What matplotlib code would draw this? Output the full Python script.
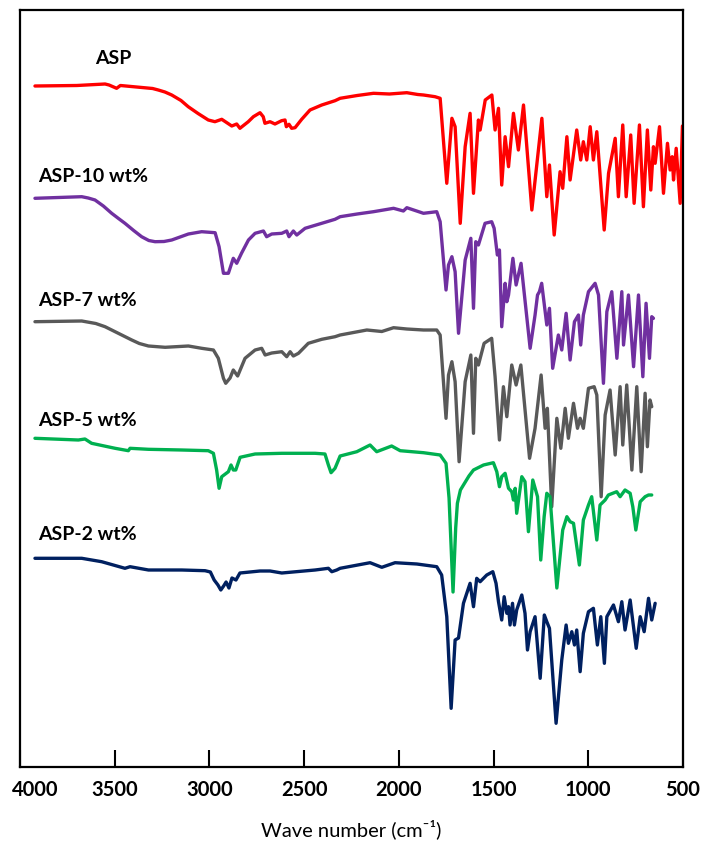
import matplotlib
matplotlib.use("Agg")
import matplotlib.pyplot as plt
import matplotlib.transforms as mtransforms
import numpy as np

plt.rcParams['font.family'] = ['Lato', 'DejaVu Sans']

# FTIR spectra: wavenumber (cm-1) and relative transmittance (a.u.), one pair per sample
asp_wn = [3921, 3700, 3551, 3530, 3490, 3470, 3300, 3270, 3235, 3199, 3150, 3112, 3060, 3006, 2971, 2935,
          2882, 2856, 2839, 2795, 2768, 2733, 2716, 2707, 2680, 2654, 2619, 2601, 2594, 2580, 2566,
          2548, 2513, 2469, 2407, 2337, 2310, 2220, 2134, 2050, 1958, 1900, 1870, 1809, 1782, 1747,
          1720, 1703, 1676, 1650, 1624, 1606, 1580, 1571, 1544, 1509, 1492, 1474, 1457, 1439, 1421,
          1395, 1369, 1342, 1298, 1245, 1219, 1205, 1180, 1149, 1135, 1113, 1096, 1061, 1040, 1026,
          1008, 990, 973, 955, 916, 893, 858, 841, 818, 800, 776, 758, 730, 709, 688, 670, 656, 647,
          624, 603, 582, 568, 557, 550, 536, 515, 503]
asp_t = [0, 0.5, 2, 1, -2.3, 0.5, -2.5, -4, -6, -9, -14.5, -20.7, -27.5, -34, -35.7, -33.3,
         -40, -38, -42.3, -35.7, -30.7, -26.7, -30.7, -37.3, -35.7, -38, -34.7, -34, -40.7, -38.3, -42.3,
         -41.7, -33.3, -24, -19, -14.7, -12.3, -9.5, -7.3, -8, -6.7, -8.5, -9, -10.7, -12.3, -97.3,
         -32.3, -40.7, -137.3, -60.7, -27.3, -107.3, -34, -44, -14, -9, -44, -22.3, -99, -50.7, -80.7,
         -27.3, -64, -19, -124, -32.3, -110.7, -79, -149, -85.7, -102.3, -50.7, -94, -44, -74, -55.7,
         -74, -40.7, -74, -45.7, -144, -87.3, -52.3, -110.7, -39, -110.7, -49, -117.3, -39, -120.7, -44,
         -104, -60.7, -77.3, -40.7, -107.3, -57.3, -84, -70.7, -94, -62.3, -117.3, -40]

asp10_wn = [3921, 3674, 3640, 3604, 3560, 3516, 3480, 3446, 3400, 3358, 3320, 3287, 3240, 3199, 3111,
            3041, 2970, 2949, 2926, 2900, 2874, 2856, 2830, 2794, 2759, 2715, 2698, 2671, 2618, 2592,
            2580, 2557, 2539, 2495, 2407, 2337, 2310, 2220, 2134, 2028, 1976, 1958, 1870, 1800, 1782,
            1751, 1738, 1720, 1703, 1685, 1650, 1620, 1606, 1594, 1580, 1545, 1510, 1497, 1480, 1469,
            1457, 1439, 1430, 1421, 1398, 1381, 1355, 1307, 1281, 1268, 1258, 1246, 1219, 1205, 1188,
            1158, 1140, 1117, 1096, 1073, 1052, 1040, 1026, 999, 964, 946, 920, 902, 876, 849, 823,
            814, 788, 761, 735, 712, 695, 677, 665, 656]
asp10_t = [-0.3, 1.3, 0, -2, -8, -15.3, -20.5, -25.3, -32.5, -38.7, -42.5, -43.7, -43.5, -42, -36,
           -33.7, -34.7, -48.7, -75.3, -75.3, -60.3, -65.3, -55, -42, -35.3, -33, -38.7, -36, -35.3, -33,
           -38.7, -33, -37, -30.3, -25.3, -21.3, -18.7, -16, -13.7, -10.3, -13, -9.7, -15.3, -13.7, -23.7,
           -92, -67, -58.7, -73.7, -135.3, -62, -40.3, -110.3, -43.7, -47, -25.3, -23.7, -30.3, -57, -52,
           -128.7, -85.3, -103.7, -97, -60.3, -87, -65.3, -150.3, -117, -97, -93.7, -85.3, -127, -110.3, -170.3,
           -137, -152, -115.3, -162, -123.7, -117, -147, -117, -93.7, -85.3, -97, -185.3, -113.7, -93.7, -160.3,
           -93.7, -147, -97, -168.7, -97, -178.7, -105.3, -160.3, -118.7, -120.3]

asp7_wn = [3921, 3674, 3600, 3551, 3481, 3410, 3370, 3322, 3234, 3111, 3041, 2979, 2953, 2926, 2914,
           2891, 2874, 2851, 2812, 2759, 2724, 2706, 2671, 2618, 2592, 2574, 2557, 2530, 2478, 2407,
           2337, 2310, 2169, 2090, 2028, 1958, 1870, 1800, 1782, 1751, 1738, 1720, 1703, 1682, 1650,
           1620, 1606, 1594, 1580, 1550, 1510, 1492, 1469, 1448, 1430, 1404, 1381, 1356, 1310, 1281,
           1249, 1228, 1216, 1193, 1166, 1145, 1122, 1105, 1078, 1057, 1043, 1026, 999, 969, 955, 932,
           911, 885, 858, 832, 818, 797, 770, 744, 721, 700, 688, 674, 665]
asp7_t = [0.3, 1, -1.5, -4.7, -11.3, -18, -21.5, -24, -25.3, -24, -26.3, -28, -36.3, -56.3, -61.3,
          -56, -48, -54, -36.3, -28, -26.3, -33, -31, -29.7, -34.7, -29.7, -34, -31.3, -21.3, -17.3,
          -14.7, -13, -8, -9.5, -5.7, -7, -8, -8, -13, -96.3, -53, -39.7, -59.7, -139.7, -59.7,
          -33, -111.3, -36.3, -43, -21.3, -16.3, -54.7, -118, -64.7, -94.7, -43, -63, -43, -136.3, -106.3,
          -53, -106.3, -86.3, -184.7, -96.3, -126.3, -86.3, -116.3, -81.3, -106.3, -96.3, -106.3, -66.3, -64.7, -73, -174.7,
          -93, -68, -133, -64.7, -123, -63, -148, -64.7, -149.7, -71.3, -124.7, -78, -84.7]

asp5_wn = [3921, 3692, 3657, 3622, 3498, 3428, 3419, 3322, 3146, 3006, 2979, 2962, 2949, 2935, 2900,
           2886, 2874, 2861, 2838, 2759, 2618, 2442, 2390, 2372, 2358, 2337, 2310, 2222, 2152, 2117,
           2038, 1993, 1870, 1782, 1751, 1735, 1714, 1700, 1691, 1675, 1659, 1630, 1606, 1553, 1501,
           1483, 1469, 1457, 1439, 1421, 1404, 1395, 1386, 1378, 1351, 1334, 1316, 1293, 1268, 1251,
           1233, 1219, 1202, 1166, 1135, 1113, 1096, 1078, 1047, 1026, 999, 982, 955, 938, 911, 894,
           850, 832, 806, 779, 765, 749, 726, 700, 682, 665]
asp5_t = [-0.3, -2, -1, -5.3, -10.3, -12.7, -10.3, -11.3, -12, -12.7, -15.3, -32, -50.3, -38.7, -33.7,
          -27, -32, -32, -19.3, -16, -15.3, -15.3, -16, -27, -34.7, -30.3, -18, -13.7, -7, -13.7,
          -8, -12.7, -14.7, -17, -25.3, -60, -154, -90, -65.3, -52, -47, -38, -32, -27, -24.7,
          -33.7, -48.7, -38.7, -35.3, -50.3, -53.7, -62, -50.3, -75.3, -38.7, -43.7, -93.7, -42, -58.7, -122,
          -78.7, -55.3, -58.7, -150, -92, -78.7, -83.7, -85.3, -127, -82, -67, -58.7, -102, -67, -62, -57,
          -53.7, -58.7, -52, -55.3, -68.7, -92, -63.7, -58.7, -57, -57]

asp2_wn = [3921, 3674, 3569, 3446, 3419, 3322, 3146, 3023, 2995, 2975, 2955, 2940, 2925, 2912, 2897,
           2881, 2860, 2839, 2786, 2733, 2680, 2618, 2442, 2372, 2354, 2328, 2310, 2152, 2090, 2020,
           1905, 1800, 1774, 1747, 1724, 1703, 1685, 1659, 1624, 1606, 1589, 1571, 1536, 1504, 1487,
           1474, 1457, 1444, 1430, 1421, 1413, 1400, 1390, 1378, 1351, 1334, 1321, 1307, 1281, 1254,
           1232, 1219, 1205, 1170, 1140, 1117, 1105, 1087, 1073, 1061, 1043, 1026, 999, 973, 952, 934,
           915, 902, 867, 841, 823, 806, 779, 747, 726, 705, 682, 665, 647]
asp2_t = [-0.3, -0.3, -3.7, -10.3, -8.7, -12, -12, -12.7, -14, -22, -27, -32, -28, -24, -30,
          -20, -22, -15, -14, -13, -13, -15, -12, -10.3, -13.7, -12, -10.3, -4.7, -9.3, -4.7,
          -6, -8.7, -17, -58.7, -150.3, -82, -80, -45.3, -25.3, -48.7, -20.3, -23.7, -17, -13.7, -25.3,
          -43.7, -62, -38.7, -55.3, -48.7, -67, -45.3, -67, -52, -37, -55.3, -92, -73.7, -58.7, -120.3,
          -57, -63.7, -70.3, -165.3, -102, -67, -85.3, -73.7, -87, -72, -113.7, -75.3, -53.7, -50.3, -87, -58.7,
          -105.3, -58.7, -47, -63.7, -43.7, -72, -42, -90.3, -58.7, -73.7, -40.3, -62, -45.3]

sample_names = ['ASP', 'ASP-10 wt%', 'ASP-7 wt%', 'ASP-5 wt%', 'ASP-2 wt%']
sample_colors = ['#FF0000', '#7030A0', '#595959', '#00B050', '#002060']
stack_offsets = [681, 569, 445, 329, 209]
label_x = [3604, 3905, 3905, 3905, 3905]
label_y = [709, 590, 466, 347, 232]

series = [(asp_wn, asp_t), (asp10_wn, asp10_t), (asp7_wn, asp7_t),
          (asp5_wn, asp5_t), (asp2_wn, asp2_t)]

fig = plt.figure(figsize=(7.02, 8.55), dpi=100)
ax = fig.add_axes([20 / 702, 88 / 855, 663 / 702, 757 / 855])

for (wn, t), name, color, off, lx, ly in zip(series, sample_names, sample_colors,
                                              stack_offsets, label_x, label_y):
    ax.plot(wn, np.asarray(t) + off, color=color, lw=2.4,
            solid_joinstyle='round', solid_capstyle='round')
    ax.text(lx, ly, name, fontsize=14, fontweight='bold', ha='left', va='center')

ax.set_xlim(4000, 500)
ax.set_ylim(0, 757)
ax.set_xticks(np.arange(4000, 499, -500))
ax.set_yticks([])
for s in ax.spines.values():
    s.set_linewidth(1.6)
    s.set_color('black')
ax.tick_params(axis='x', direction='in', length=12, width=1.5, pad=9,
               labelsize=14.5)
for lab in ax.get_xticklabels():
    lab.set_fontweight('bold')
first = ax.get_xticklabels()[0]
first.set_transform(first.get_transform() +
                    mtransforms.ScaledTranslation(15 / 100, 0, fig.dpi_scale_trans))
ax.set_xlabel('Wave number (cm\u207b\u00b9)', fontsize=14.5, labelpad=14)

fig.savefig('out.png', dpi=100)
